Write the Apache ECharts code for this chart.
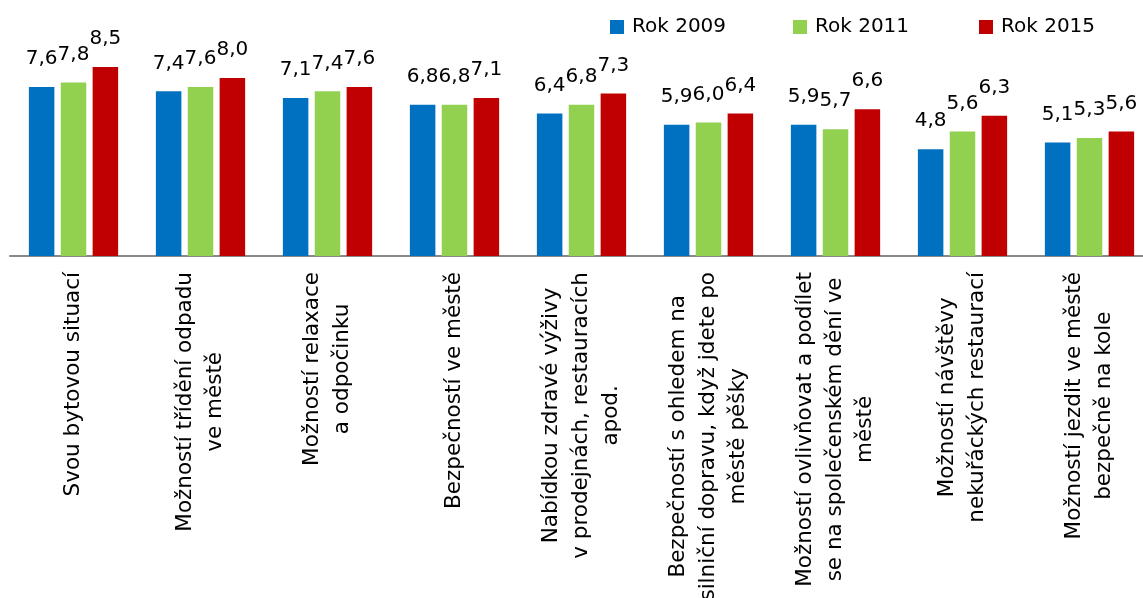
<!DOCTYPE html>
<html>
<head>
<meta charset="utf-8">
<script src="https://cdn.jsdelivr.net/npm/echarts@6/dist/echarts.min.js"></script>
<style>
  html, body { margin: 0; padding: 0; background: #fff; }
  #chart { width: 1143px; height: 598px; }
</style>
</head>
<body>
<div id="chart"></div>
<script>
// categories (line breaks as in the original)
const categories = [
  'Svou bytovou situací',
  'Možností třídění odpadu\nve městě',
  'Možností relaxace\na odpočinku',
  'Bezpečností ve městě',
  'Nabídkou zdravé výživy\nv prodejnách, restauracích\napod.',
  'Bezpečností s ohledem na\nsilniční dopravu, když jdete po\nměstě pěšky',
  'Možností ovlivňovat a podílet\nse na společenském dění ve\nměstě',
  'Možností návštěvy\nnekuřáckých restaurací',
  'Možností jezdit ve městě\nbezpečně na kole'
]
const seriesNames = ['Rok 2009', 'Rok 2011', 'Rok 2015']
const rok2009 = [7.6, 7.4, 7.1, 6.8, 6.4, 5.9, 5.9, 4.8, 5.1]
const rok2011 = [7.8, 7.6, 7.4, 6.8, 6.8, 6.0, 5.7, 5.6, 5.3]
const rok2015 = [8.5, 8.0, 7.6, 7.1, 7.3, 6.4, 6.6, 6.3, 5.6]
const colors = ['#0070C0', '#92D050', '#C00000']

const font = 'DejaVu Sans'
// left edge of each legend entry
const legendLeft = [605, 788, 974]

function makeSeries(name, data, color) {
  return {
    name: name,
    type: 'bar',
    data: data,
    barWidth: 25.5,
    barGap: '25%',
    itemStyle: { color: color },
    label: {
      show: true,
      position: 'top',
      distance: 18,
      color: '#000',
      fontFamily: font,
      fontSize: 20,
      formatter: p => p.value.toFixed(1).replace('.', ',')
    }
  }
}

const chart = echarts.init(document.getElementById('chart'))
chart.setOption({
  animation: false,
  legend: seriesNames.map((name, i) => ({
    data: [name],
    top: 12,
    left: legendLeft[i],
    icon: 'rect',
    itemWidth: 14,
    itemHeight: 14,
    textStyle: { fontFamily: font, fontSize: 20, color: '#000', padding: [0, 0, 0, 3] }
  })),
  grid: {
    left: 10,
    width: 1143,
    top: 33.5,
    height: 222.5,
    outerBoundsMode: 'none'
  },
  xAxis: {
    type: 'category',
    data: categories,
    axisLine: { lineStyle: { color: '#898989', width: 2 } },
    axisTick: { show: false },
    axisLabel: {
      interval: 0,
      rotate: 90,
      margin: 16,
      formatter: v => v.split('\n').map(l => '{c|' + l + '}').join('\n'),
      rich: {
        c: {
          align: 'center',
          fontFamily: font,
          fontSize: 21.5,
          lineHeight: 30,
          color: '#000'
        }
      }
    }
  },
  yAxis: {
    type: 'value',
    min: 0,
    max: 10,
    show: false
  },
  series: [
    makeSeries(seriesNames[0], rok2009, colors[0]),
    makeSeries(seriesNames[1], rok2011, colors[1]),
    makeSeries(seriesNames[2], rok2015, colors[2])
  ]
})
</script>
</body>
</html>
